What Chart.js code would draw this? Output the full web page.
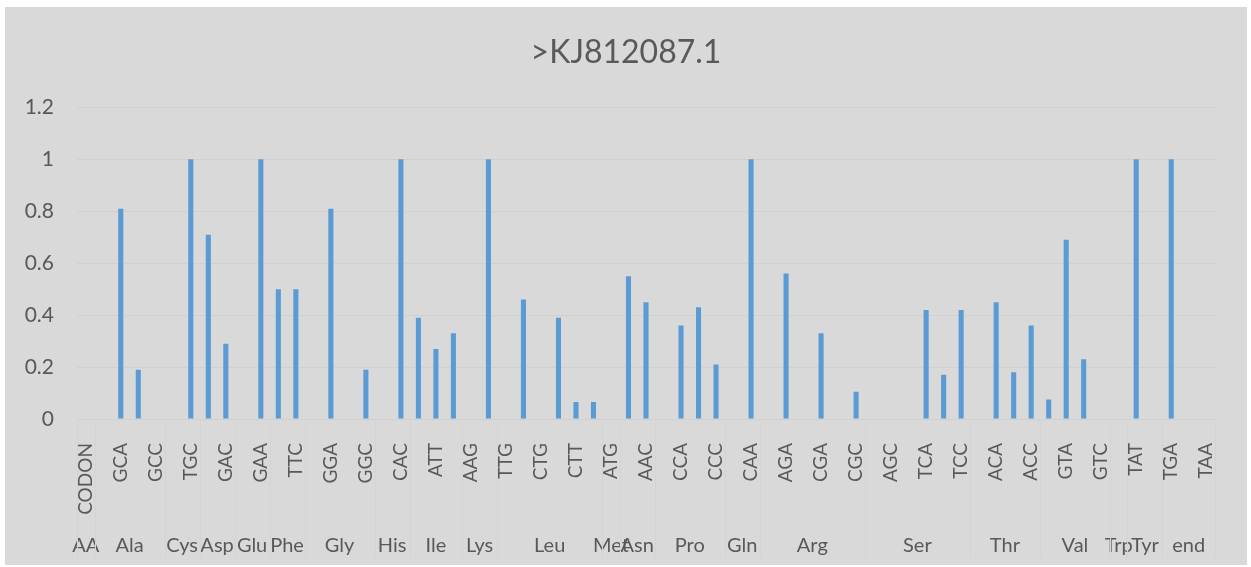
<!DOCTYPE html>
<html>
<head>
<meta charset="utf-8">
<script src="https://cdn.jsdelivr.net/npm/chart.js@4"></script>
<style>
  body { margin: 0; background: #ffffff; }
  #wrap { position: absolute; left: 5px; top: 7px; width: 1242px; height: 558px; background: #d9d9d9; }
</style>
</head>
<body>
<div id="wrap"><canvas id="codonChart"></canvas></div>
<script>
// codons in chart order
const codons = [
  "CODON",
  "GCG", "GCA", "GCT", "GCC",
  "TGT", "TGC",
  "GAT", "GAC",
  "GAG", "GAA",
  "TTT", "TTC",
  "GGG", "GGA", "GGT", "GGC",
  "CAT", "CAC",
  "ATA", "ATT", "ATC",
  "AAG", "AAA",
  "TTG", "TTA", "CTG", "CTA", "CTT", "CTC",
  "ATG",
  "AAT", "AAC",
  "CCG", "CCA", "CCT", "CCC",
  "CAG", "CAA",
  "AGG", "AGA", "CGG", "CGA", "CGT", "CGC",
  "AGT", "AGC", "TCG", "TCA", "TCT", "TCC",
  "ACG", "ACA", "ACT", "ACC",
  "GTG", "GTA", "GTT", "GTC",
  "TGG",
  "TAT", "TAC",
  "TGA", "TAG", "TAA"
];

// value per codon
const values = [
  0,
  0, 0.81, 0.19, 0,
  0, 1,
  0.71, 0.29,
  0, 1,
  0.5, 0.5,
  0, 0.81, 0, 0.19,
  0, 1,
  0.39, 0.27, 0.33,
  0, 1,
  0, 0.46, 0, 0.39, 0.065, 0.065,
  0,
  0.55, 0.45,
  0, 0.36, 0.43, 0.21,
  0, 1,
  0, 0.56, 0, 0.33, 0, 0.105,
  0, 0, 0, 0.42, 0.17, 0.42,
  0, 0.45, 0.18, 0.36,
  0.075, 0.69, 0.23, 0,
  0,
  1, 0,
  1, 0, 0
];

// amino acid groups (second axis row) and how many codons each covers
const aminoAcids = ["AA", "Ala", "Cys", "Asp", "Glu", "Phe", "Gly", "His", "Ile", "Lys", "Leu",
  "Met", "Asn", "Pro", "Gln", "Arg", "Ser", "Thr", "Val", "Trp", "Tyr", "end"];
const groupSizes = [1, 4, 2, 2, 2, 2, 4, 2, 3, 2, 6, 1, 2, 4, 2, 6, 6, 4, 4, 1, 2, 3];

const yTicks = [0, 0.2, 0.4, 0.6, 0.8, 1, 1.2];

const textColor = "#595959";
const fontFamily = "Lato, 'Open Sans', sans-serif";

// group centers and boundaries in category-index units
const groupCenters = [];
const groupEdges = [-0.5];
let start = 0;
for (let i = 0; i < groupSizes.length; i++) {
  groupCenters.push(start + (groupSizes[i] - 1) / 2);
  start += groupSizes[i];
  groupEdges.push(start - 0.5);
}

// faint separator lines between amino acid groups
const groupLines = {
  id: "groupLines",
  beforeDatasetsDraw(chart) {
    const g = chart.scales.xg;
    const ctx = chart.ctx;
    ctx.save();
    ctx.strokeStyle = "#d4d4d4";
    ctx.lineWidth = 1;
    groupEdges.forEach(function (e) {
      const x = Math.round(g.getPixelForValue(e)) + 0.5;
      ctx.beginPath();
      ctx.moveTo(x, chart.chartArea.bottom);
      ctx.lineTo(x, g.bottom - 7);
      ctx.stroke();
    });
    ctx.restore();
  }
};

new Chart(document.getElementById("codonChart").getContext("2d"), {
  type: "bar",
  data: {
    labels: codons,
    datasets: [
      {
        label: ">KJ812087.1",
        data: values,
        backgroundColor: "#5b9bd5",
        barPercentage: 1,
        categoryPercentage: 0.29
      }
    ]
  },
  options: {
    responsive: true,
    maintainAspectRatio: false,
    animation: false,
    layout: { padding: 0 },
    plugins: {
      legend: { display: false },
      tooltip: { enabled: false },
      title: {
        display: true,
        text: ">KJ812087.1",
        color: textColor,
        font: { family: fontFamily, size: 32, weight: "normal" },
        padding: { top: 26, bottom: 36 }
      }
    },
    scales: {
      y: {
        min: 0,
        max: 1.2,
        afterBuildTicks(axis) {
          axis.ticks = yTicks.map(v => ({ value: v }));
        },
        afterFit(axis) {
          axis.width = 72;
        },
        ticks: {
          color: textColor,
          padding: 23,
          font: { family: fontFamily, size: 21 },
          callback: v => String(Math.round(v * 10) / 10)
        },
        grid: { color: "#d0d0d0", drawTicks: false },
        border: { display: false }
      },
      // empty right-hand spacer so the title stays centred on the whole chart
      yr: {
        position: "right",
        afterFit(axis) {
          axis.width = 32;
        },
        ticks: { display: false },
        grid: { display: false },
        border: { display: false }
      },
      x: {
        position: "bottom",
        afterFit(axis) {
          axis.height = 100;
        },
        ticks: {
          color: textColor,
          autoSkip: false,
          minRotation: 90,
          maxRotation: 90,
          padding: 16,
          font: { family: fontFamily, size: 19 },
          callback: (v, i) => (i % 2 === 0 ? codons[i] : "")
        },
        grid: { display: false },
        border: { display: false }
      },
      xg: {
        type: "linear",
        position: "bottom",
        offset: false,
        min: -0.5,
        max: codons.length - 0.5,
        afterBuildTicks(axis) {
          axis.ticks = groupCenters.map(v => ({ value: v }));
        },
        afterFit(axis) {
          axis.height = 46;
        },
        ticks: {
          color: textColor,
          autoSkip: false,
          maxRotation: 0,
          padding: 7,
          font: { family: fontFamily, size: 20 },
          callback: (v, i) => aminoAcids[i]
        },
        grid: { display: false },
        border: { display: false }
      }
    }
  },
  plugins: [groupLines]
});
</script>
</body>
</html>
